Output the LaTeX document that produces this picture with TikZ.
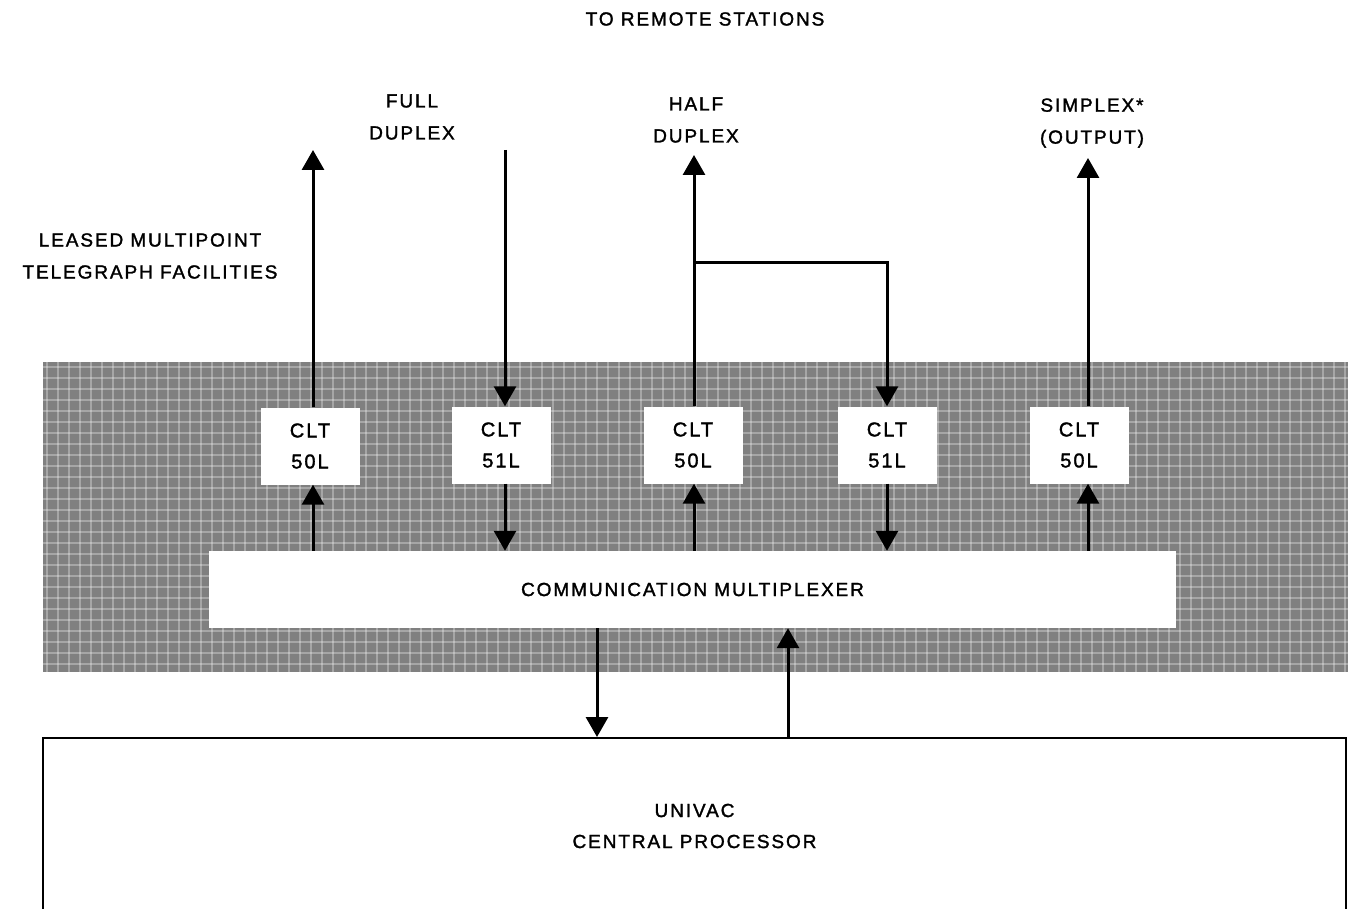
\documentclass[tikz,border=0pt]{standalone}
\usepackage{fontspec}
\setmainfont{Liberation Sans}[LetterSpace=10,FakeBold=1.6]
\usetikzlibrary{arrows.meta}
\definecolor{band}{gray}{0.5}
\begin{document}
\begin{tikzpicture}[x=1pt,y=-1pt,
  lbl/.style={font=\fontsize{19}{32}\selectfont, align=center, inner sep=0},
  clt/.style={fill=white, minimum width=99, minimum height=77, inner sep=0, align=center, font=\fontsize{20}{31}\selectfont},
  arr/.style={line width=3, -{Triangle[width=22,length=20]}},
  mesh/.style={white, opacity=.3, line width=1.2},
  ]
\useasboundingbox (0,0) rectangle (1348,909);
\fill[band] (43,362) rectangle (1348,672);
\begin{scope}
  \clip (43,362) rectangle (1348,672);
  \foreach \x in {47,58,...,1348} \draw[mesh] (\x,362) -- (\x,672);
  \foreach \y in {367,378,...,672} \draw[mesh] (43,\y) -- (1348,\y);
\end{scope}

\node[clt] (c1) at (310,446) {CLT\\50L};
\node[clt] (c2) at (501,445) {CLT\\51L};
\node[clt] (c3) at (693,445) {CLT\\50L};
\node[clt] (c4) at (887,445) {CLT\\51L};
\node[clt] (c5) at (1079,445) {CLT\\50L};

\node[fill=white, minimum width=967, minimum height=77, inner sep=0, font=\fontsize{19}{31}\selectfont] (mux) at (692.5,589.5) {COMMUNICATION MULTIPLEXER};
\node[draw, line width=2, minimum width=1303, minimum height=176, inner sep=0, align=center, font=\fontsize{19}{31}\selectfont] (cpu) at (694.5,826) {UNIVAC\\CENTRAL PROCESSOR};

\coordinate (t1) at (313,150);
\coordinate (t2) at (505,150);
\coordinate (t3) at (694,155);
\coordinate (j3) at (694,262);
\coordinate (t5) at (1088,158);
\coordinate (d1) at (597,0);
\coordinate (u1) at (788,0);

\draw[arr] (c1.north -| t1) -- (t1);
\draw[arr] (t2) -- (c2.north -| t2);
\draw[arr] (c3.north -| t3) -- (t3);
\draw[arr] (j3) -| (c4.north);
\draw[arr] (c5.north -| t5) -- (t5);

\draw[arr] (mux.north -| t1) -- (c1.south -| t1);
\draw[arr] (c2.south -| t2) -- (mux.north -| t2);
\draw[arr] (mux.north -| t3) -- (c3.south -| t3);
\draw[arr] (c4.south) -- (mux.north -| c4);
\draw[arr] (mux.north -| t5) -- (c5.south -| t5);

\draw[arr] (mux.south -| d1) -- (cpu.north -| d1);
\draw[arr] (cpu.north -| u1) -- (mux.south -| u1);

\node[lbl] (title) at (705,19) {TO REMOTE STATIONS};
\node[lbl] (full) at (412,117) {FULL\\DUPLEX};
\node[lbl] (half) at (696,120) {HALF\\DUPLEX};
\node[lbl] (simp) at (1092,123) {SIMPLEX*\\(OUTPUT)};
\node[lbl] (leased) at (150,256) {LEASED MULTIPOINT\\TELEGRAPH FACILITIES};
\end{tikzpicture}
\end{document}
